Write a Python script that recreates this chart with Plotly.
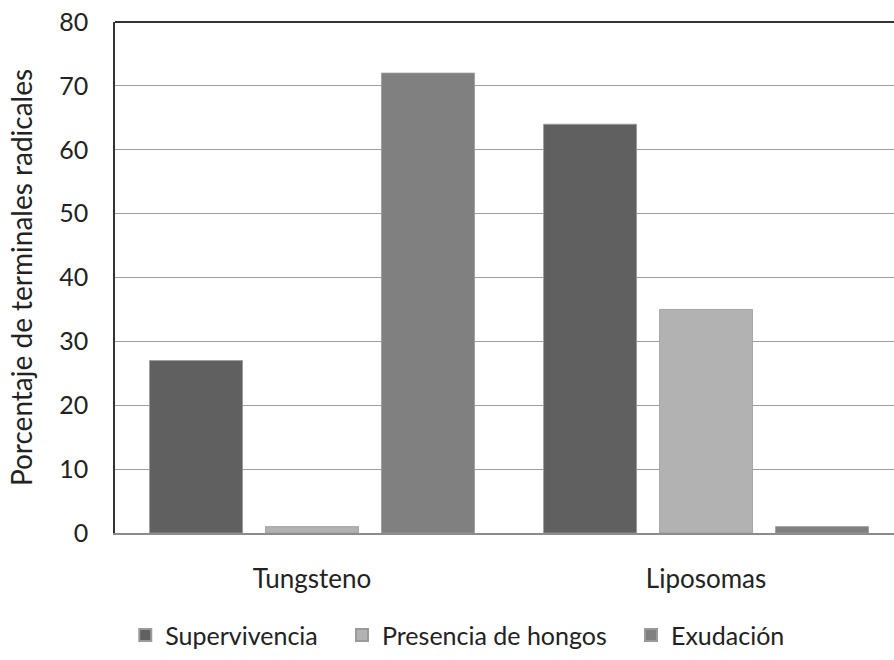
import plotly.graph_objects as go

categories = ["Tungsteno", "Liposomas"]
series_names = ["Supervivencia", "Presencia de hongos", "Exudación"]
supervivencia = [27, 64]
presencia_hongos = [1, 35]
exudacion = [72, 1]
colors = ["#606060", "#B2B2B2", "#808080"]
y_ticks = [0, 10, 20, 30, 40, 50, 60, 70, 80]

FONT = "Lato, 'Open Sans', sans-serif"
FS = 25
PAD = "\u00a0" * 3  # visual spacing between legend entries

fig = go.Figure()
for i, (name, vals, col) in enumerate(zip(series_names, [supervivencia, presencia_hongos, exudacion], colors)):
    label = name + (PAD if i < len(series_names) - 1 else "")
    fig.add_trace(go.Bar(
        x=categories, y=vals, name=label,
        marker=dict(color=col, line=dict(color="#9a9a9a", width=0.8)),
    ))

fig.update_layout(
    width=894, height=660,
    margin=dict(l=115, r=0, t=22, b=127),
    paper_bgcolor="white", plot_bgcolor="white",
    barmode="group", bargap=0.117, bargroupgap=0.198,
    font=dict(family=FONT, size=FS, color="#222222"),
    showlegend=True,
    legend=dict(orientation="h", x=0.44, xanchor="center", y=-0.2, yanchor="middle",
                font=dict(size=FS), traceorder="normal", itemwidth=30,
                itemsizing="constant", tracegroupgap=0),
    xaxis=dict(range=[-0.5, 1.477], showgrid=False, showline=True,
               linecolor="#8c8c8c", linewidth=1.5, ticks="", ticklabelstandoff=22,
               tickfont=dict(size=26), mirror=False),
    yaxis=dict(range=[0, 80], tickvals=y_ticks, showgrid=True, gridcolor="#9e9e9e",
               gridwidth=1.3, showline=True, linecolor="#333333", linewidth=1.5,
               ticks="", ticklabelstandoff=20, tickfont=dict(size=FS), zeroline=False,
               title=dict(text="Porcentaje de terminales radicales", font=dict(size=28),
                          standoff=18)),
)
# top border line of plot area
fig.add_shape(type="line", xref="paper", yref="paper", x0=0, x1=1, y0=1, y1=1,
              line=dict(color="#333333", width=1.8))

fig.write_html("out.html", config={"displayModeBar": False},
               post_script="document.body.style.margin='0';document.body.style.overflow='hidden';")
